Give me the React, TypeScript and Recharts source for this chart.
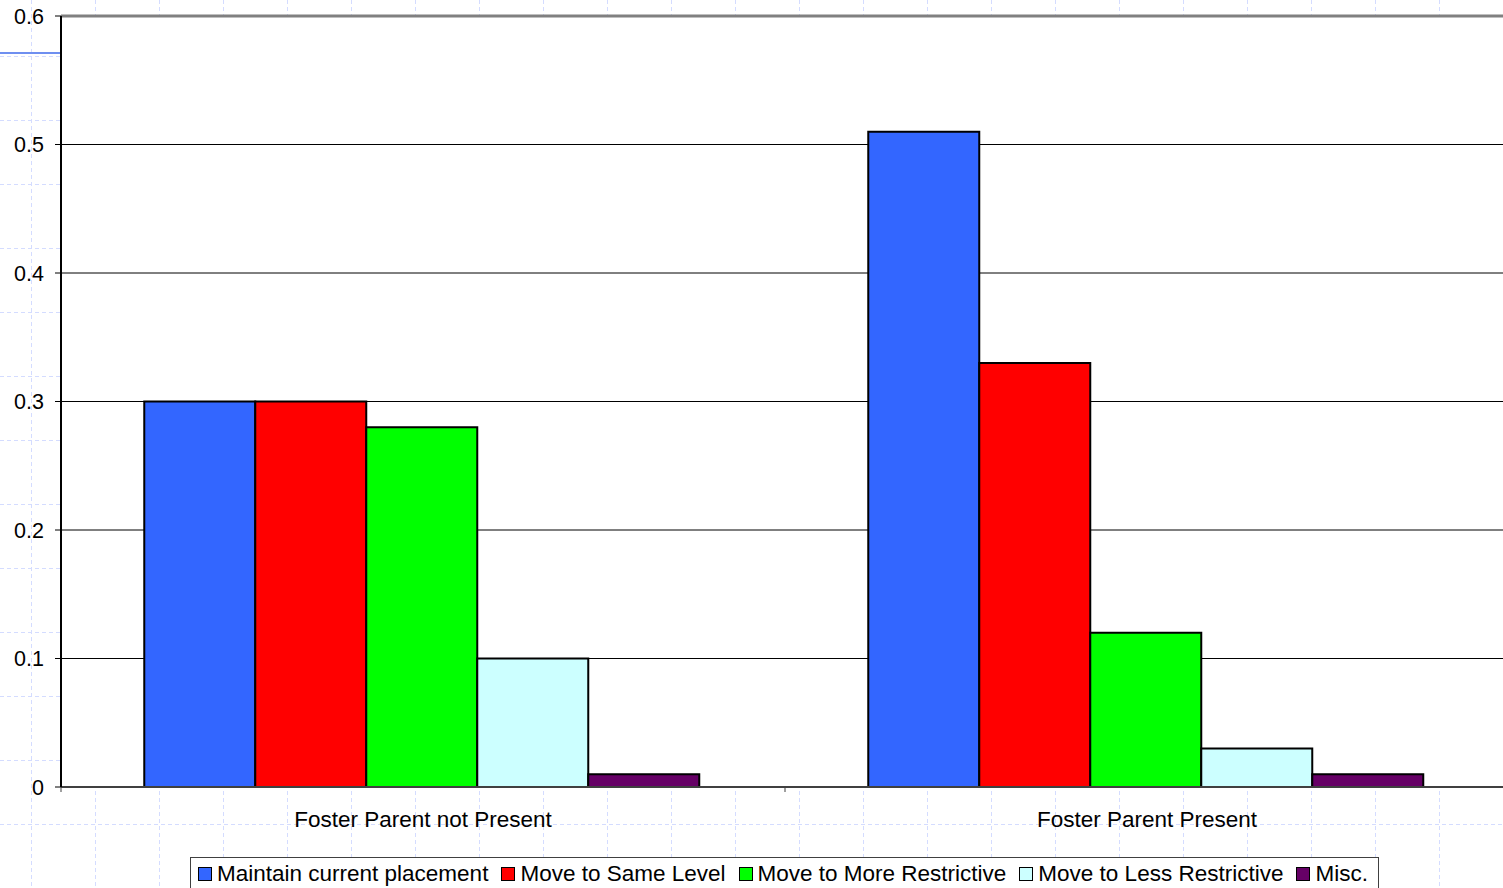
import React from "react";
import { BarChart, Bar, XAxis, YAxis, CartesianGrid, Legend, ReferenceLine } from "recharts";

const categories = ["Foster Parent not Present", "Foster Parent Present"];
const maintainCurrent = [0.3, 0.51];
const moveSameLevel = [0.3, 0.33];
const moveMoreRestrictive = [0.28, 0.12];
const moveLessRestrictive = [0.1, 0.03];
const misc = [0.01, 0.01];
const yTicks = [0, 0.1, 0.2, 0.3, 0.4, 0.5, 0.6];

const seriesDefs = [
  { key: "maintain", name: "Maintain current placement", values: maintainCurrent, color: "#3366FF" },
  { key: "same", name: "Move to Same Level", values: moveSameLevel, color: "#FF0000" },
  { key: "more", name: "Move to More Restrictive", values: moveMoreRestrictive, color: "#00FF00" },
  { key: "less", name: "Move to Less Restrictive", values: moveLessRestrictive, color: "#CCFFFF" },
  { key: "misc", name: "Misc.", values: misc, color: "#660066" },
];

const data = categories.map((c, i) => {
  const row: Record<string, string | number> = { category: c };
  seriesDefs.forEach((s) => {
    row[s.key] = s.values[i];
  });
  return row;
});

const FONT = "'Liberation Sans', Arial, sans-serif";
const FS = 22.5;
const CHART_W = 1509;
const CHART_H = 888;
const Y_AXIS_W = 61;
const CAT_W = (CHART_W - Y_AXIS_W) / categories.length;

const XTick = (props: any) => {
  const { x, y, payload, index } = props;
  return (
    <g>
      <line x1={x - CAT_W / 2} x2={x - CAT_W / 2} y1={y} y2={y + 5} stroke="#404040" strokeWidth={1} />
      {index === categories.length - 1 && (
        <line x1={x + CAT_W / 2} x2={x + CAT_W / 2} y1={y} y2={y + 5} stroke="#404040" strokeWidth={1} />
      )}
      <text x={x} y={y + 40} textAnchor="middle" fontSize={FS} fill="#000" fontFamily={FONT}>
        {payload.value}
      </text>
    </g>
  );
};

const LegendContent = () => (
  <div
    style={{
      display: "inline-flex",
      alignItems: "center",
      border: "1px solid #404040",
      background: "#fff",
      padding: "3px 10px 5px 7px",
      fontFamily: FONT,
      fontSize: FS,
      color: "#000",
      whiteSpace: "nowrap",
    }}
  >
    {seriesDefs.map((s, i) => (
      <span key={s.key} style={{ display: "inline-flex", alignItems: "center", marginRight: i < seriesDefs.length - 1 ? 13 : 0 }}>
        <span
          style={{
            display: "inline-block",
            width: 12,
            height: 12,
            background: s.color,
            border: "1.5px solid #000",
            marginRight: 5,
          }}
        />
        {s.name}
      </span>
    ))}
  </div>
);

const Background = () => {
  const vLines: number[] = [];
  for (let x = 31; x < 1503; x += 64) vLines.push(x);
  const hLines: number[] = [];
  for (let y = -8; y <= 888; y += 64) hLines.push(y);
  return (
    <svg width={1503} height={888} style={{ position: "absolute", left: 0, top: 0 }}>
      {vLines.map((x) => (
        <line key={"v" + x} x1={x + 0.5} x2={x + 0.5} y1={0} y2={888} stroke="#d4dcff" strokeDasharray="4 3" />
      ))}
      {hLines.map((y) => (
        <line key={"h" + y} x1={0} x2={1503} y1={y + 0.5} y2={y + 0.5} stroke="#d4dcff" strokeDasharray="4 3" />
      ))}
      <line x1={0} x2={60} y1={53} y2={53} stroke="#6f8ff0" strokeWidth={2} />
    </svg>
  );
};

export default function App() {
  return (
    <div style={{ position: "absolute", left: 0, top: 0, width: 1503, height: 888, overflow: "hidden", background: "#fff" }}>
      <Background />
      <div style={{ position: "absolute", left: 0, top: 0 }}>
        <BarChart
          width={CHART_W}
          height={CHART_H}
          data={data}
          margin={{ top: 16, right: 0, bottom: 0, left: 0 }}
          barCategoryGap="11.5%"
          barGap={0}
        >
          <CartesianGrid vertical={false} stroke="#000" strokeWidth={1} fill="#fff" fillOpacity={1} horizontalValues={[0.1, 0.2, 0.3, 0.4, 0.5]} />
          <XAxis
            dataKey="category"
            height={65}
            axisLine={{ stroke: "#404040", strokeWidth: 2 }}
            tickLine={false}
            tickSize={0}
            tickMargin={0}
            tick={<XTick />}
            interval={0}
          />
          <YAxis
            width={Y_AXIS_W}
            domain={[0, 0.6]}
            ticks={yTicks}
            interval={0}
            axisLine={{ stroke: "#000", strokeWidth: 2 }}
            tickLine={{ stroke: "#000", strokeWidth: 1 }}
            tickSize={6}
            tickMargin={11}
            tick={{ fontSize: 21.5, fill: "#000", fontFamily: FONT }}
            tickFormatter={(v: number) => String(v)}
          />
          <ReferenceLine y={0.6} stroke="#808080" strokeWidth={3} />
          <Legend
            verticalAlign="bottom"
            content={<LegendContent />}
            wrapperStyle={{ left: 190, bottom: -5, width: 1300 }}
          />
          {seriesDefs.map((s) => (
            <Bar key={s.key} dataKey={s.key} name={s.name} fill={s.color} stroke="#000" strokeWidth={2} isAnimationActive={false} />
          ))}
        </BarChart>
      </div>
    </div>
  );
}
